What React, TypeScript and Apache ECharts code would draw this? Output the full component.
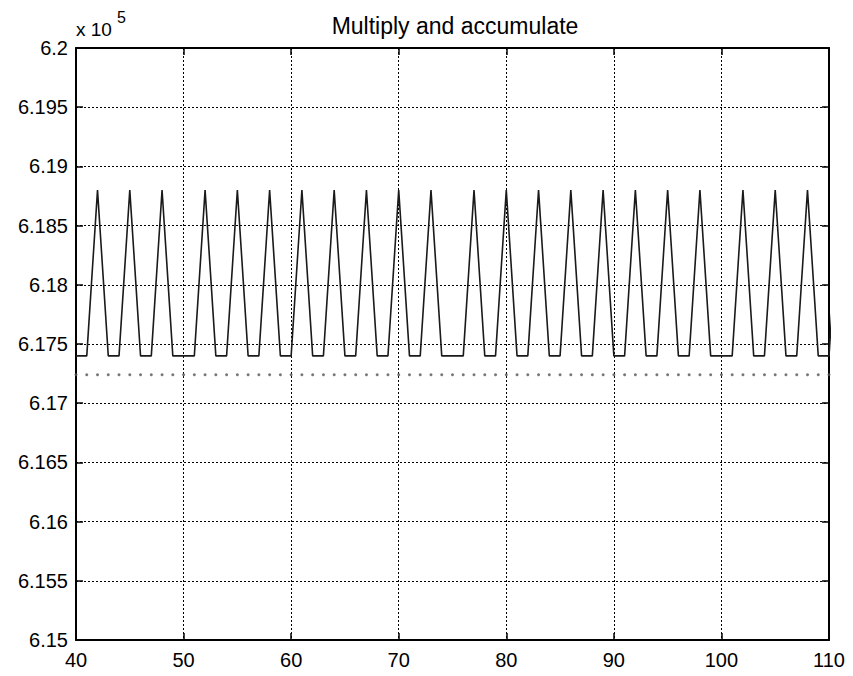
import React, { useEffect, useRef } from "react";
import * as echarts from "echarts";

// Sample positions (x) and accumulator output (raw units; axis shows x 10^5)
const sampleX = [
  40, 41, 42, 43, 44, 45, 46, 47, 48, 49, 50, 51, 52, 53, 54, 55, 56, 57, 58, 59,
  60, 61, 62, 63, 64, 65, 66, 67, 68, 69, 70, 71, 72, 73, 74, 75, 76, 77, 78, 79,
  80, 81, 82, 83, 84, 85, 86, 87, 88, 89, 90, 91, 92, 93, 94, 95, 96, 97, 98, 99,
  100, 101, 102, 103, 104, 105, 106, 107, 108, 109, 110, 111,
];
const macValues = [
  617400, 617400, 618800, 617400, 617400, 618800, 617400, 617400, 618800, 617400,
  617400, 617400, 618800, 617400, 617400, 618800, 617400, 617400, 618800, 617400,
  617400, 618800, 617400, 617400, 618800, 617400, 617400, 618800, 617400, 617400,
  618800, 617400, 617400, 618800, 617400, 617400, 617400, 618800, 617400, 617400,
  618800, 617400, 617400, 618800, 617400, 617400, 618800, 617400, 617400, 618800,
  617400, 617400, 618800, 617400, 617400, 618800, 617400, 617400, 618800, 617400,
  617400, 617400, 618800, 617400, 617400, 618800, 617400, 617400, 618800, 617400,
  617400, 618800,
];
// Reference level drawn as dots at each sample
const refX = [
  40, 41, 42, 43, 44, 45, 46, 47, 48, 49, 50, 51, 52, 53, 54, 55, 56, 57, 58, 59,
  60, 61, 62, 63, 64, 65, 66, 67, 68, 69, 70, 71, 72, 73, 74, 75, 76, 77, 78, 79,
  80, 81, 82, 83, 84, 85, 86, 87, 88, 89, 90, 91, 92, 93, 94, 95, 96, 97, 98, 99,
  100, 101, 102, 103, 104, 105, 106, 107, 108, 109, 110,
];
const refLevel = 617240;

const X_MIN = 40;
const X_MAX = 110;
const X_STEP = 10;
const Y_MIN = 615000;
const Y_MAX = 620000;
const Y_STEP = 500;
const Y_SCALE = 1e5;

const FONT = "'Liberation Sans', Arial, Helvetica, sans-serif";

export default function App() {
  const ref = useRef<HTMLDivElement>(null);

  useEffect(() => {
    if (!ref.current) return;
    const chart = echarts.init(ref.current, null, { renderer: "svg" });

    const lineData = sampleX.map((x, i) => [x, macValues[i]]);
    const dotData = refX.map((x) => [x, refLevel]);

    const axisLine = { show: true, lineStyle: { color: "#000", width: 2 } };
    const tick = { show: true, inside: true, length: 7, lineStyle: { color: "#000", width: 1.5 } };
    const split = { show: true, lineStyle: { color: "#000", width: 1, type: [2, 2] as any } };
    const labelStyle = { color: "#000", fontSize: 20, fontFamily: FONT };

    chart.setOption({
      animation: false,
      backgroundColor: "#fff",
      title: {
        text: "Multiply and accumulate",
        left: 450,
        textAlign: "center",
        top: 9,
        textStyle: { color: "#000", fontSize: 23, fontWeight: "normal", fontFamily: FONT },
      },
      grid: { left: 76, top: 48, width: 753, height: 592, containLabel: false },
      xAxis: [
        {
          type: "value",
          position: "bottom",
          min: X_MIN,
          max: X_MAX,
          interval: X_STEP,
          axisLine,
          axisTick: tick,
          splitLine: split,
          axisLabel: { ...labelStyle, margin: 10 },
        },
        {
          type: "value",
          position: "top",
          min: X_MIN,
          max: X_MAX,
          interval: X_STEP,
          axisLine,
          axisTick: tick,
          splitLine: { show: false },
          axisLabel: { show: false },
        },
      ],
      yAxis: [
        {
          type: "value",
          position: "left",
          min: Y_MIN,
          max: Y_MAX,
          interval: Y_STEP,
          axisLine,
          axisTick: tick,
          splitLine: split,
          axisLabel: {
            ...labelStyle,
            margin: 8,
            formatter: (v: number) => parseFloat((v / Y_SCALE).toFixed(3)).toString(),
          },
        },
        {
          type: "value",
          position: "right",
          min: Y_MIN,
          max: Y_MAX,
          interval: Y_STEP,
          axisLine,
          axisTick: tick,
          splitLine: { show: false },
          axisLabel: { show: false },
        },
      ],
      graphic: [
        {
          type: "text",
          left: 76,
          top: 20,
          style: { text: "x 10", fill: "#000", fontSize: 19, fontFamily: FONT },
        },
        {
          type: "text",
          left: 117,
          top: 9,
          style: { text: "5", fill: "#000", fontSize: 16, fontFamily: FONT },
        },
      ],
      series: [
        {
          type: "scatter",
          xAxisIndex: 0,
          yAxisIndex: 0,
          data: dotData,
          symbol: "circle",
          symbolSize: 3,
          itemStyle: { color: "#555" },
          z: 2,
        },
        {
          type: "line",
          xAxisIndex: 0,
          yAxisIndex: 0,
          data: lineData,
          showSymbol: false,
          symbol: "none",
          clip: true,
          lineStyle: { color: "#1a1a1a", width: 1.6 },
          z: 3,
        },
      ],
    });

    return () => chart.dispose();
  }, []);

  return (
    <div
      ref={ref}
      style={{ position: "absolute", left: 0, top: 0, width: 853, height: 676, background: "#fff" }}
    />
  );
}
